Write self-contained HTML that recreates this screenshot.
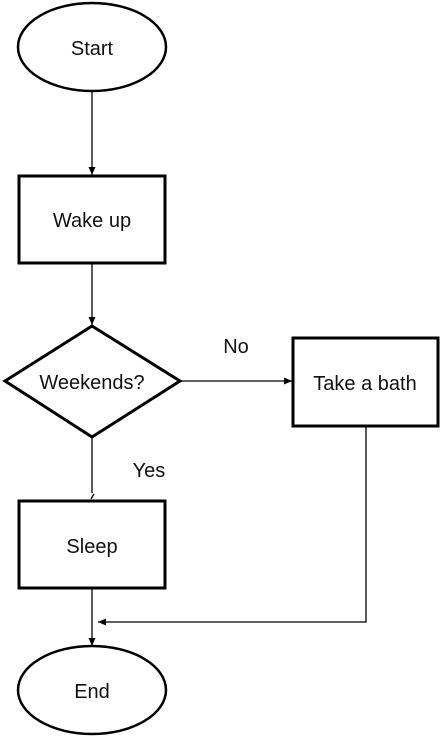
<!DOCTYPE html>
<html><head><style>body{margin:0;background:#fff}svg{display:block}</style></head>
<body>
<svg width="442" height="737" viewBox="0 0 442 737" xmlns="http://www.w3.org/2000/svg" font-family="Liberation Sans, Arial, sans-serif" font-size="20" fill="none" stroke="#000">
<defs><marker id="a" markerWidth="10" markerHeight="10" refX="8" refY="5" orient="auto" markerUnits="userSpaceOnUse"><path d="M0,1.5 L8,5 L0,8.5 Z" fill="#000" stroke="none"/></marker></defs>
<ellipse cx="92" cy="47" rx="74" ry="44" stroke-width="2.5"/>
<rect x="19" y="176" width="146" height="87" stroke-width="3"/>
<polygon points="92,326 180,381 92,437 5,381" stroke-width="3"/>
<rect x="293" y="338" width="145" height="88" stroke-width="3"/>
<rect x="19" y="501" width="146" height="87" stroke-width="3"/>
<ellipse cx="92" cy="690" rx="74" ry="44" stroke-width="2.5"/>
<g stroke-width="1.3">
<line x1="92" y1="91" x2="92" y2="175" marker-end="url(#a)"/>
<line x1="92" y1="263" x2="92" y2="325" marker-end="url(#a)"/>
<line x1="180" y1="381" x2="292" y2="381" marker-end="url(#a)"/>
<line x1="92" y1="437" x2="92" y2="493"/>
<line x1="91" y1="499" x2="94" y2="494"/>
<polyline points="366,426 366,622 98,622" marker-end="url(#a)"/>
<line x1="92" y1="588" x2="92" y2="646" marker-end="url(#a)"/>
</g>
<g fill="#111" stroke="none" text-anchor="middle">
<text x="92" y="55">Start</text>
<text x="92" y="227">Wake up</text>
<text x="92" y="389">Weekends?</text>
<text x="365" y="390">Take a bath</text>
<text x="92" y="553">Sleep</text>
<text x="92" y="698">End</text>
<text x="236" y="353">No</text>
<text x="149" y="477">Yes</text>
</g>
</svg>
</body></html>
